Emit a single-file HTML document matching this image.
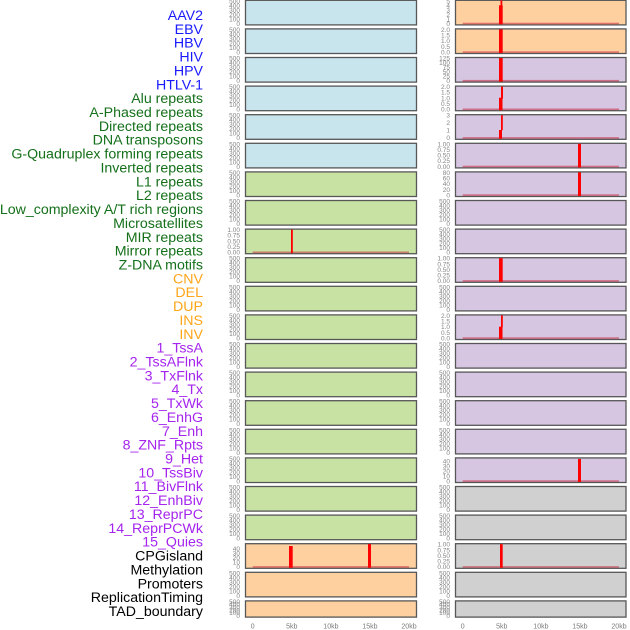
<!DOCTYPE html>
<html><head><meta charset="utf-8"><style>
html,body{margin:0;padding:0;background:#fff;}
svg{display:block;}
.l{font-family:"Liberation Sans",Arial,sans-serif;font-size:14.2px;text-anchor:end;}
.b{fill:#1a1aff}.g{fill:#14701a}.o{fill:#ffa51a}.p{fill:#a524ee}.k{fill:#000}
.t{font-family:"Liberation Sans",Arial,sans-serif;font-size:6.5px;fill:#858585;text-anchor:end;}
.x{font-family:"Liberation Sans",Arial,sans-serif;font-size:7px;fill:#7a7a7a;text-anchor:middle;}
.pl{stroke:#575757;stroke-width:1.3;}
.cb{fill:#c8e4ec}.cg{fill:#c8e2a4}.co{fill:#fed0a0}.cp{fill:#d6c6e2}.cy{fill:#d0d0d0}
.bl{fill:rgba(200,40,60,0.55)}
.r{fill:#ff0000}
</style></head><body>
<svg width="630" height="630" viewBox="0 0 630 630" xmlns="http://www.w3.org/2000/svg">
<!-- labels -->
<text class="l b" x="203" y="20">AAV2</text>
<text class="l b" x="203" y="33.86">EBV</text>
<text class="l b" x="203" y="47.72">HBV</text>
<text class="l b" x="203" y="61.58">HIV</text>
<text class="l b" x="203" y="75.44">HPV</text>
<text class="l b" x="203" y="89.3">HTLV-1</text>
<text class="l g" x="203" y="103.16">Alu repeats</text>
<text class="l g" x="203" y="117.02">A-Phased repeats</text>
<text class="l g" x="203" y="130.88">Directed repeats</text>
<text class="l g" x="203" y="144.74">DNA transposons</text>
<text class="l g" x="203" y="158.6">G-Quadruplex forming repeats</text>
<text class="l g" x="203" y="172.46">Inverted repeats</text>
<text class="l g" x="203" y="186.32">L1 repeats</text>
<text class="l g" x="203" y="200.18">L2 repeats</text>
<text class="l g" x="203" y="214.04">Low_complexity A/T rich regions</text>
<text class="l g" x="203" y="227.9">Microsatellites</text>
<text class="l g" x="203" y="241.76">MIR repeats</text>
<text class="l g" x="203" y="255.62">Mirror repeats</text>
<text class="l g" x="203" y="269.48">Z-DNA motifs</text>
<text class="l o" x="203" y="283.34">CNV</text>
<text class="l o" x="203" y="297.2">DEL</text>
<text class="l o" x="203" y="311.06">DUP</text>
<text class="l o" x="203" y="324.92">INS</text>
<text class="l o" x="203" y="338.78">INV</text>
<text class="l p" x="203" y="352.64">1_TssA</text>
<text class="l p" x="203" y="366.5">2_TssAFlnk</text>
<text class="l p" x="203" y="380.36">3_TxFlnk</text>
<text class="l p" x="203" y="394.22">4_Tx</text>
<text class="l p" x="203" y="408.08">5_TxWk</text>
<text class="l p" x="203" y="421.94">6_EnhG</text>
<text class="l p" x="203" y="435.8">7_Enh</text>
<text class="l p" x="203" y="449.66">8_ZNF_Rpts</text>
<text class="l p" x="203" y="463.52">9_Het</text>
<text class="l p" x="203" y="477.38">10_TssBiv</text>
<text class="l p" x="203" y="491.24">11_BivFlnk</text>
<text class="l p" x="203" y="505.1">12_EnhBiv</text>
<text class="l p" x="203" y="518.96">13_ReprPC</text>
<text class="l p" x="203" y="532.82">14_ReprPCWk</text>
<text class="l p" x="203" y="546.68">15_Quies</text>
<text class="l k" x="203" y="560.54">CPGisland</text>
<text class="l k" x="203" y="574.4">Methylation</text>
<text class="l k" x="203" y="588.26">Promoters</text>
<text class="l k" x="203" y="602.12">ReplicationTiming</text>
<text class="l k" x="203" y="615.98">TAD_boundary</text>

<!-- Row 1 -->
<g transform="translate(0,0.3)">
<rect class="pl cb" x="245.5" y="0" width="171" height="24.6"/>
<text class="t" x="240" y="3">500</text><text class="t" x="240" y="7.5">400</text><text class="t" x="240" y="12">300</text><text class="t" x="240" y="16.5">200</text><text class="t" x="240" y="21">100</text><text class="t" x="240" y="25.5">0</text>
<rect class="pl co" x="455.5" y="0" width="170.5" height="24.6"/>
<text class="t" x="450" y="3">5</text><text class="t" x="450" y="7.5">4</text><text class="t" x="450" y="12">3</text><text class="t" x="450" y="16.5">2</text><text class="t" x="450" y="21">1</text><text class="t" x="450" y="25.5">0</text>
<rect class="bl" x="462.7" y="22.4" width="156.3" height="1.6"/>
<rect class="r" x="499" y="5" width="3.7" height="19"/><rect class="r" x="500.5" y="0" width="1.8" height="5.5"/>
</g>
<!-- Row 2 -->
<g transform="translate(0,28.9)">
<rect class="pl cb" x="245.5" y="0" width="171" height="24.6"/>
<text class="t" x="240" y="3">500</text><text class="t" x="240" y="7.5">400</text><text class="t" x="240" y="12">300</text><text class="t" x="240" y="16.5">200</text><text class="t" x="240" y="21">100</text><text class="t" x="240" y="25.5">0</text>
<rect class="pl co" x="455.5" y="0" width="170.5" height="24.6"/>
<text class="t" x="450" y="3">2.0</text><text class="t" x="450" y="8.6">1.5</text><text class="t" x="450" y="14.25">1.0</text><text class="t" x="450" y="19.9">0.5</text><text class="t" x="450" y="25.5">0.0</text>
<rect class="bl" x="462.7" y="22.4" width="156.3" height="1.6"/>
<rect class="r" x="499" y="0.5" width="3.7" height="23.6"/>
</g>
<!-- Row 3 -->
<g transform="translate(0,57.5)">
<rect class="pl cb" x="245.5" y="0" width="171" height="24.6"/>
<text class="t" x="240" y="3">500</text><text class="t" x="240" y="7.5">400</text><text class="t" x="240" y="12">300</text><text class="t" x="240" y="16.5">200</text><text class="t" x="240" y="21">100</text><text class="t" x="240" y="25.5">0</text>
<rect class="pl cp" x="455.5" y="0" width="170.5" height="24.6"/>
<text class="t" x="450" y="3">125</text><text class="t" x="450" y="7.5">100</text><text class="t" x="450" y="12">75</text><text class="t" x="450" y="16.5">50</text><text class="t" x="450" y="21">25</text><text class="t" x="450" y="25.5">0</text>
<rect class="bl" x="462.7" y="22.4" width="156.3" height="1.6"/>
<rect class="r" x="499" y="0.5" width="3.7" height="23.6"/>
</g>
<!-- Row 4 -->
<g transform="translate(0,86.1)">
<rect class="pl cb" x="245.5" y="0" width="171" height="24.6"/>
<text class="t" x="240" y="3">500</text><text class="t" x="240" y="7.5">400</text><text class="t" x="240" y="12">300</text><text class="t" x="240" y="16.5">200</text><text class="t" x="240" y="21">100</text><text class="t" x="240" y="25.5">0</text>
<rect class="pl cp" x="455.5" y="0" width="170.5" height="24.6"/>
<text class="t" x="450" y="3">2.0</text><text class="t" x="450" y="8.6">1.5</text><text class="t" x="450" y="14.25">1.0</text><text class="t" x="450" y="19.9">0.5</text><text class="t" x="450" y="25.5">0.0</text>
<rect class="bl" x="462.7" y="22.4" width="156.3" height="1.6"/>
<rect class="r" x="499" y="11.6" width="3.5" height="12.5"/><rect class="r" x="501" y="0.5" width="2" height="12"/>
</g>
<!-- Row 5 -->
<g transform="translate(0,114.7)">
<rect class="pl cb" x="245.5" y="0" width="171" height="24.6"/>
<text class="t" x="240" y="3">500</text><text class="t" x="240" y="7.5">400</text><text class="t" x="240" y="12">300</text><text class="t" x="240" y="16.5">200</text><text class="t" x="240" y="21">100</text><text class="t" x="240" y="25.5">0</text>
<rect class="pl cp" x="455.5" y="0" width="170.5" height="24.6"/>
<text class="t" x="450" y="3">3</text><text class="t" x="450" y="10.5">2</text><text class="t" x="450" y="18">1</text><text class="t" x="450" y="25.5">0</text>
<rect class="bl" x="462.7" y="22.4" width="156.3" height="1.6"/>
<rect class="r" x="499" y="15.3" width="3" height="8.8"/><rect class="r" x="501" y="0.5" width="1.8" height="15"/>
</g>
<!-- Row 6 -->
<g transform="translate(0,143.3)">
<rect class="pl cb" x="245.5" y="0" width="171" height="24.6"/>
<text class="t" x="240" y="3">500</text><text class="t" x="240" y="7.5">400</text><text class="t" x="240" y="12">300</text><text class="t" x="240" y="16.5">200</text><text class="t" x="240" y="21">100</text><text class="t" x="240" y="25.5">0</text>
<rect class="pl cp" x="455.5" y="0" width="170.5" height="24.6"/>
<text class="t" x="450" y="3">1.00</text><text class="t" x="450" y="8.6">0.75</text><text class="t" x="450" y="14.25">0.50</text><text class="t" x="450" y="19.9">0.25</text><text class="t" x="450" y="25.5">0.00</text>
<rect class="bl" x="462.7" y="22.4" width="156.3" height="1.6"/>
<rect class="r" x="578" y="0.5" width="3" height="23.6"/>
</g>
<!-- Row 7 -->
<g transform="translate(0,171.9)">
<rect class="pl cg" x="245.5" y="0" width="171" height="24.6"/>
<text class="t" x="240" y="3">500</text><text class="t" x="240" y="7.5">400</text><text class="t" x="240" y="12">300</text><text class="t" x="240" y="16.5">200</text><text class="t" x="240" y="21">100</text><text class="t" x="240" y="25.5">0</text>
<rect class="pl cp" x="455.5" y="0" width="170.5" height="24.6"/>
<text class="t" x="450" y="3">80</text><text class="t" x="450" y="8.6">60</text><text class="t" x="450" y="14.25">40</text><text class="t" x="450" y="19.9">20</text><text class="t" x="450" y="25.5">0</text>
<rect class="bl" x="462.7" y="22.4" width="156.3" height="1.6"/>
<rect class="r" x="578" y="0.5" width="3" height="23.6"/>
</g>
<!-- Row 8 -->
<g transform="translate(0,200.5)">
<rect class="pl cg" x="245.5" y="0" width="171" height="24.6"/>
<text class="t" x="240" y="3">500</text><text class="t" x="240" y="7.5">400</text><text class="t" x="240" y="12">300</text><text class="t" x="240" y="16.5">200</text><text class="t" x="240" y="21">100</text><text class="t" x="240" y="25.5">0</text>
<rect class="pl cp" x="455.5" y="0" width="170.5" height="24.6"/>
<text class="t" x="450" y="3">500</text><text class="t" x="450" y="7.5">400</text><text class="t" x="450" y="12">300</text><text class="t" x="450" y="16.5">200</text><text class="t" x="450" y="21">100</text><text class="t" x="450" y="25.5">0</text>
</g>
<!-- Row 9 -->
<g transform="translate(0,229.1)">
<rect class="pl cg" x="245.5" y="0" width="171" height="24.6"/>
<text class="t" x="240" y="3">1.00</text><text class="t" x="240" y="8.6">0.75</text><text class="t" x="240" y="14.25">0.50</text><text class="t" x="240" y="19.9">0.25</text><text class="t" x="240" y="25.5">0.00</text>
<rect class="bl" x="252.7" y="22.4" width="156.3" height="1.6"/>
<rect class="r" x="291" y="0.5" width="1.8" height="23.6"/>
<rect class="pl cp" x="455.5" y="0" width="170.5" height="24.6"/>
<text class="t" x="450" y="3">500</text><text class="t" x="450" y="7.5">400</text><text class="t" x="450" y="12">300</text><text class="t" x="450" y="16.5">200</text><text class="t" x="450" y="21">100</text><text class="t" x="450" y="25.5">0</text>
</g>
<!-- Row 10 -->
<g transform="translate(0,257.7)">
<rect class="pl cg" x="245.5" y="0" width="171" height="24.6"/>
<text class="t" x="240" y="3">500</text><text class="t" x="240" y="7.5">400</text><text class="t" x="240" y="12">300</text><text class="t" x="240" y="16.5">200</text><text class="t" x="240" y="21">100</text><text class="t" x="240" y="25.5">0</text>
<rect class="pl cp" x="455.5" y="0" width="170.5" height="24.6"/>
<text class="t" x="450" y="3">1.00</text><text class="t" x="450" y="8.6">0.75</text><text class="t" x="450" y="14.25">0.50</text><text class="t" x="450" y="19.9">0.25</text><text class="t" x="450" y="25.5">0.00</text>
<rect class="bl" x="462.7" y="22.4" width="156.3" height="1.6"/>
<rect class="r" x="499" y="0.5" width="3.7" height="23.6"/>
</g>
<!-- Row 11 -->
<g transform="translate(0,286.3)">
<rect class="pl cg" x="245.5" y="0" width="171" height="24.6"/>
<text class="t" x="240" y="3">500</text><text class="t" x="240" y="7.5">400</text><text class="t" x="240" y="12">300</text><text class="t" x="240" y="16.5">200</text><text class="t" x="240" y="21">100</text><text class="t" x="240" y="25.5">0</text>
<rect class="pl cp" x="455.5" y="0" width="170.5" height="24.6"/>
<text class="t" x="450" y="3">500</text><text class="t" x="450" y="7.5">400</text><text class="t" x="450" y="12">300</text><text class="t" x="450" y="16.5">200</text><text class="t" x="450" y="21">100</text><text class="t" x="450" y="25.5">0</text>
</g>
<!-- Row 12 -->
<g transform="translate(0,314.9)">
<rect class="pl cg" x="245.5" y="0" width="171" height="24.6"/>
<text class="t" x="240" y="3">500</text><text class="t" x="240" y="7.5">400</text><text class="t" x="240" y="12">300</text><text class="t" x="240" y="16.5">200</text><text class="t" x="240" y="21">100</text><text class="t" x="240" y="25.5">0</text>
<rect class="pl cp" x="455.5" y="0" width="170.5" height="24.6"/>
<text class="t" x="450" y="3">2.0</text><text class="t" x="450" y="8.6">1.5</text><text class="t" x="450" y="14.25">1.0</text><text class="t" x="450" y="19.9">0.5</text><text class="t" x="450" y="25.5">0.0</text>
<rect class="bl" x="462.7" y="22.4" width="156.3" height="1.6"/>
<rect class="r" x="499" y="11.8" width="3.5" height="12.3"/><rect class="r" x="501" y="0.5" width="1.8" height="12"/>
</g>
<!-- Row 13 -->
<g transform="translate(0,343.5)">
<rect class="pl cg" x="245.5" y="0" width="171" height="24.6"/>
<text class="t" x="240" y="3">500</text><text class="t" x="240" y="7.5">400</text><text class="t" x="240" y="12">300</text><text class="t" x="240" y="16.5">200</text><text class="t" x="240" y="21">100</text><text class="t" x="240" y="25.5">0</text>
<rect class="pl cp" x="455.5" y="0" width="170.5" height="24.6"/>
<text class="t" x="450" y="3">500</text><text class="t" x="450" y="7.5">400</text><text class="t" x="450" y="12">300</text><text class="t" x="450" y="16.5">200</text><text class="t" x="450" y="21">100</text><text class="t" x="450" y="25.5">0</text>
</g>
<!-- Row 14 -->
<g transform="translate(0,372.1)">
<rect class="pl cg" x="245.5" y="0" width="171" height="24.6"/>
<text class="t" x="240" y="3">500</text><text class="t" x="240" y="7.5">400</text><text class="t" x="240" y="12">300</text><text class="t" x="240" y="16.5">200</text><text class="t" x="240" y="21">100</text><text class="t" x="240" y="25.5">0</text>
<rect class="pl cp" x="455.5" y="0" width="170.5" height="24.6"/>
<text class="t" x="450" y="3">500</text><text class="t" x="450" y="7.5">400</text><text class="t" x="450" y="12">300</text><text class="t" x="450" y="16.5">200</text><text class="t" x="450" y="21">100</text><text class="t" x="450" y="25.5">0</text>
</g>
<!-- Row 15 -->
<g transform="translate(0,400.7)">
<rect class="pl cg" x="245.5" y="0" width="171" height="24.6"/>
<text class="t" x="240" y="3">500</text><text class="t" x="240" y="7.5">400</text><text class="t" x="240" y="12">300</text><text class="t" x="240" y="16.5">200</text><text class="t" x="240" y="21">100</text><text class="t" x="240" y="25.5">0</text>
<rect class="pl cp" x="455.5" y="0" width="170.5" height="24.6"/>
<text class="t" x="450" y="3">500</text><text class="t" x="450" y="7.5">400</text><text class="t" x="450" y="12">300</text><text class="t" x="450" y="16.5">200</text><text class="t" x="450" y="21">100</text><text class="t" x="450" y="25.5">0</text>
</g>
<!-- Row 16 -->
<g transform="translate(0,429.3)">
<rect class="pl cg" x="245.5" y="0" width="171" height="24.6"/>
<text class="t" x="240" y="3">500</text><text class="t" x="240" y="7.5">400</text><text class="t" x="240" y="12">300</text><text class="t" x="240" y="16.5">200</text><text class="t" x="240" y="21">100</text><text class="t" x="240" y="25.5">0</text>
<rect class="pl cp" x="455.5" y="0" width="170.5" height="24.6"/>
<text class="t" x="450" y="3">500</text><text class="t" x="450" y="7.5">400</text><text class="t" x="450" y="12">300</text><text class="t" x="450" y="16.5">200</text><text class="t" x="450" y="21">100</text><text class="t" x="450" y="25.5">0</text>
</g>
<!-- Row 17 -->
<g transform="translate(0,457.9)">
<rect class="pl cg" x="245.5" y="0" width="171" height="24.6"/>
<text class="t" x="240" y="3">500</text><text class="t" x="240" y="7.5">400</text><text class="t" x="240" y="12">300</text><text class="t" x="240" y="16.5">200</text><text class="t" x="240" y="21">100</text><text class="t" x="240" y="25.5">0</text>
<rect class="pl cp" x="455.5" y="0" width="170.5" height="24.6"/>
<text class="t" x="450" y="5.5">40</text><text class="t" x="450" y="10.5">30</text><text class="t" x="450" y="15.5">20</text><text class="t" x="450" y="20.5">10</text><text class="t" x="450" y="25.5">0</text>
<rect class="bl" x="462.7" y="22.4" width="156.3" height="1.6"/>
<rect class="r" x="578" y="1" width="3" height="23.1"/>
</g>
<!-- Row 18 -->
<g transform="translate(0,486.5)">
<rect class="pl cg" x="245.5" y="0" width="171" height="24.6"/>
<text class="t" x="240" y="3">500</text><text class="t" x="240" y="7.5">400</text><text class="t" x="240" y="12">300</text><text class="t" x="240" y="16.5">200</text><text class="t" x="240" y="21">100</text><text class="t" x="240" y="25.5">0</text>
<rect class="pl cy" x="455.5" y="0" width="170.5" height="24.6"/>
<text class="t" x="450" y="3">500</text><text class="t" x="450" y="7.5">400</text><text class="t" x="450" y="12">300</text><text class="t" x="450" y="16.5">200</text><text class="t" x="450" y="21">100</text><text class="t" x="450" y="25.5">0</text>
</g>
<!-- Row 19 -->
<g transform="translate(0,515.1)">
<rect class="pl cg" x="245.5" y="0" width="171" height="24.6"/>
<text class="t" x="240" y="3">500</text><text class="t" x="240" y="7.5">400</text><text class="t" x="240" y="12">300</text><text class="t" x="240" y="16.5">200</text><text class="t" x="240" y="21">100</text><text class="t" x="240" y="25.5">0</text>
<rect class="pl cy" x="455.5" y="0" width="170.5" height="24.6"/>
<text class="t" x="450" y="3">500</text><text class="t" x="450" y="7.5">400</text><text class="t" x="450" y="12">300</text><text class="t" x="450" y="16.5">200</text><text class="t" x="450" y="21">100</text><text class="t" x="450" y="25.5">0</text>
</g>
<!-- Row 20 -->
<g transform="translate(0,543.7)">
<rect class="pl co" x="245.5" y="0" width="171" height="24.6"/>
<text class="t" x="240" y="7.5">40</text><text class="t" x="240" y="12">30</text><text class="t" x="240" y="16.5">20</text><text class="t" x="240" y="21">10</text><text class="t" x="240" y="25.5">0</text>
<rect class="bl" x="252.7" y="22.4" width="156.3" height="1.6"/>
<rect class="r" x="289" y="2.3" width="3.7" height="21.8"/><rect class="r" x="368" y="0.3" width="3" height="23.8"/>
<rect class="pl cy" x="455.5" y="0" width="170.5" height="24.6"/>
<text class="t" x="450" y="3">1.00</text><text class="t" x="450" y="8.6">0.75</text><text class="t" x="450" y="14.25">0.50</text><text class="t" x="450" y="19.9">0.25</text><text class="t" x="450" y="25.5">0.00</text>
<rect class="bl" x="462.7" y="22.4" width="156.3" height="1.6"/>
<rect class="r" x="500" y="0.5" width="2.7" height="23.6"/>
</g>
<!-- Row 21 -->
<g transform="translate(0,572.3)">
<rect class="pl co" x="245.5" y="0" width="171" height="24.6"/>
<text class="t" x="240" y="3">500</text><text class="t" x="240" y="7.5">400</text><text class="t" x="240" y="12">300</text><text class="t" x="240" y="16.5">200</text><text class="t" x="240" y="21">100</text><text class="t" x="240" y="25.5">0</text>
<rect class="pl cy" x="455.5" y="0" width="170.5" height="24.6"/>
<text class="t" x="450" y="3">500</text><text class="t" x="450" y="7.5">400</text><text class="t" x="450" y="12">300</text><text class="t" x="450" y="16.5">200</text><text class="t" x="450" y="21">100</text><text class="t" x="450" y="25.5">0</text>
</g>
<!-- Row 22 -->
<g transform="translate(0,600.9)">
<rect class="pl co" x="245.5" y="0" width="171" height="16.2"/>
<text class="t" x="240" y="3">500</text><text class="t" x="240" y="5.8">400</text><text class="t" x="240" y="8.6">300</text><text class="t" x="240" y="11.4">200</text><text class="t" x="240" y="14.2">100</text><text class="t" x="240" y="17">0</text>
<rect class="pl cy" x="455.5" y="0" width="170.5" height="16.2"/>
<text class="t" x="450" y="3">500</text><text class="t" x="450" y="5.8">400</text><text class="t" x="450" y="8.6">300</text><text class="t" x="450" y="11.4">200</text><text class="t" x="450" y="14.2">100</text><text class="t" x="450" y="17">0</text>
</g>

<!-- x axis labels -->
<text class="x" x="252.7" y="628.5">0</text>
<text class="x" x="291.8" y="628.5">5kb</text>
<text class="x" x="330.9" y="628.5">10kb</text>
<text class="x" x="369.9" y="628.5">15kb</text>
<text class="x" x="409" y="628.5">20kb</text>
<text class="x" x="462.7" y="628.5">0</text>
<text class="x" x="501.8" y="628.5">5kb</text>
<text class="x" x="540.9" y="628.5">10kb</text>
<text class="x" x="579.9" y="628.5">15kb</text>
<text class="x" x="619" y="628.5">20kb</text>
</svg>
</body></html>
